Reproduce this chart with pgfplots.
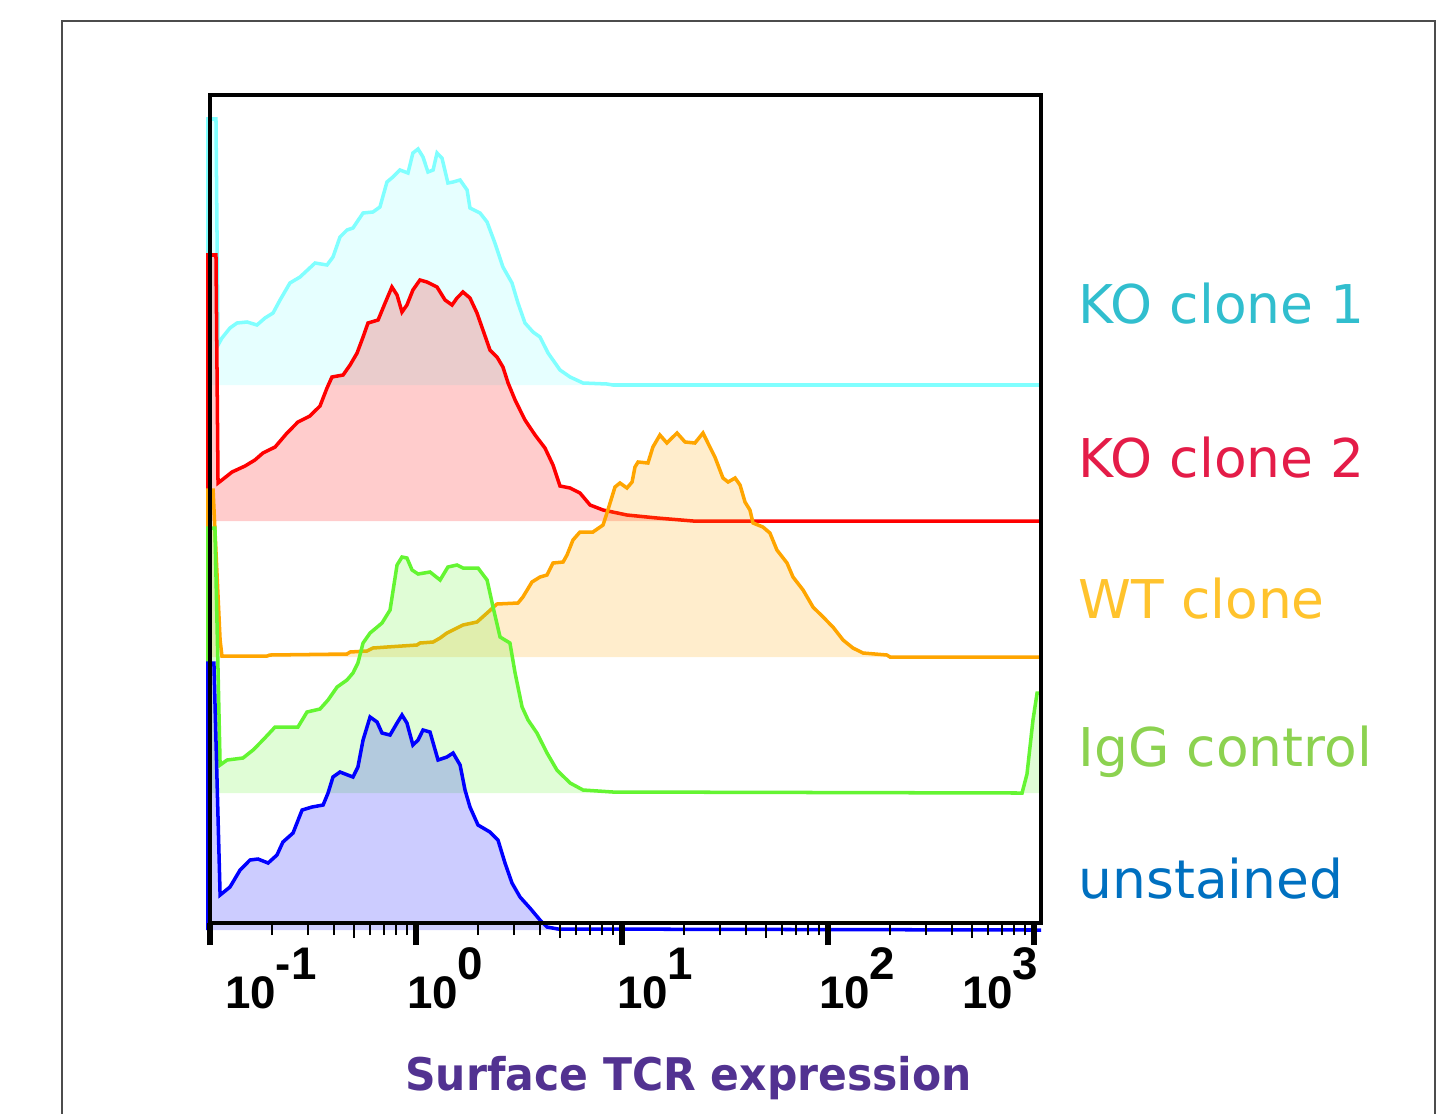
\documentclass[border=0pt]{standalone}
\usepackage{fontspec}
\setmainfont{DejaVu Sans}
\newfontfamily\tickfont{Liberation Sans}
\usepackage{graphicx}
\usepackage{pgfplots}
\usepackage{pgfplotstable}
\pgfplotsset{compat=1.18}

\definecolor{cyanline}{RGB}{128,255,255}
\definecolor{redline}{RGB}{255,0,0}
\definecolor{orangeline}{RGB}{255,165,0}
\definecolor{greenline}{RGB}{100,245,50}
\definecolor{blueline}{RGB}{0,0,255}
\definecolor{koAtext}{RGB}{49,190,206}
\definecolor{koBtext}{RGB}{228,28,72}
\definecolor{wttext}{RGB}{255,195,45}
\definecolor{iggtext}{RGB}{140,210,80}
\definecolor{unsttext}{RGB}{0,112,192}
\definecolor{titletext}{RGB}{82,50,145}

% x: log10 of intensity (decades), y: stacked histogram height (offset per sample)
\pgfplotstableread{
x y
-1.010 538
-1.010 804
-0.971 804
-0.961 578
-0.942 585
-0.903 595
-0.869 600
-0.820 601
-0.772 598
-0.733 605
-0.694 610
-0.660 623
-0.612 640
-0.563 646
-0.490 660
-0.432 658
-0.403 666
-0.369 686
-0.335 693
-0.306 695
-0.257 710
-0.209 711
-0.175 716
-0.141 741
-0.112 746
-0.078 753
-0.039 750
-0.015 770
0.010 774
0.034 766
0.058 751
0.083 753
0.102 770
0.126 765
0.155 740
0.180 741
0.214 743
0.248 733
0.262 715
0.311 710
0.345 701
0.383 680
0.422 656
0.466 640
0.495 620
0.529 600
0.568 591
0.602 586
0.641 570
0.699 553
0.748 546
0.811 540
0.927 539
0.956 538
3.034 538
}\koA

\pgfplotstableread{
x y
-1.010 402
-1.010 668
-0.971 668
-0.961 440
-0.942 443
-0.893 451
-0.830 457
-0.782 463
-0.743 470
-0.684 476
-0.626 490
-0.573 501
-0.515 507
-0.466 517
-0.432 535
-0.408 546
-0.354 548
-0.320 558
-0.286 570
-0.257 586
-0.233 600
-0.184 603
-0.150 620
-0.117 636
-0.092 628
-0.068 611
-0.044 618
-0.015 633
0.019 643
0.053 641
0.102 636
0.141 623
0.175 618
0.199 625
0.228 631
0.262 625
0.296 610
0.325 593
0.359 573
0.393 566
0.422 556
0.447 540
0.481 523
0.529 503
0.578 488
0.626 475
0.665 458
0.699 437
0.748 435
0.796 430
0.845 418
0.908 413
1.024 408
1.170 405
1.345 402
3.034 402
}\koB

\pgfplotstableread{
x y
-1.010 266
-1.010 433
-0.985 433
-0.951 283
-0.942 267
-0.723 267
-0.709 268
-0.335 269
-0.320 271
-0.238 272
-0.209 275
-0.141 276
0.005 278
0.019 280
0.083 281
0.117 285
0.150 290
0.228 298
0.296 301
0.345 310
0.393 319
0.495 320
0.519 326
0.563 341
0.602 346
0.636 348
0.665 360
0.714 361
0.733 368
0.762 383
0.796 391
0.859 391
0.908 398
0.927 410
0.951 426
0.966 436
0.990 440
1.024 435
1.049 441
1.063 456
1.078 461
1.126 460
1.150 476
1.184 488
1.218 480
1.267 490
1.306 481
1.354 480
1.393 490
1.417 480
1.451 466
1.490 445
1.515 441
1.549 445
1.573 438
1.597 421
1.621 413
1.636 400
1.684 396
1.718 390
1.752 373
1.801 360
1.830 346
1.879 333
1.927 316
1.976 306
2.024 296
2.073 283
2.121 275
2.170 270
2.286 268
2.301 266
3.034 266
}\wt

\pgfplotstableread{
x y
-1.010 130
-1.010 395
-0.976 395
-0.951 158
-0.917 163
-0.840 165
-0.791 173
-0.743 183
-0.684 196
-0.573 196
-0.529 211
-0.466 214
-0.427 223
-0.383 236
-0.335 243
-0.306 250
-0.282 260
-0.257 280
-0.223 290
-0.165 300
-0.126 313
-0.092 358
-0.068 366
-0.044 365
-0.019 353
0.010 349
0.068 351
0.117 343
0.155 356
0.199 358
0.228 355
0.301 355
0.345 343
0.374 316
0.408 286
0.456 280
0.481 250
0.515 216
0.544 203
0.587 190
0.636 170
0.684 153
0.748 140
0.811 133
0.956 131
2.942 130
2.966 149
2.995 203
3.015 230
3.034 230
3.034 130
}\igg

\pgfplotstableread{
x y
-1.010 -7
-1.010 260
-0.981 260
-0.951 28
-0.903 36
-0.854 53
-0.806 63
-0.767 64
-0.718 60
-0.675 68
-0.646 81
-0.597 90
-0.553 113
-0.505 116
-0.451 118
-0.427 130
-0.403 146
-0.369 151
-0.306 146
-0.282 156
-0.257 183
-0.223 206
-0.189 201
-0.165 190
-0.126 188
-0.092 200
-0.068 208
-0.044 200
-0.015 178
0.010 183
0.034 193
0.068 191
0.107 163
0.150 166
0.180 170
0.214 158
0.238 133
0.262 116
0.301 98
0.359 91
0.398 83
0.432 60
0.466 40
0.505 26
0.553 15
0.602 3
0.636 -4
0.689 -6
3.034 -7
}\unst

\begin{document}
\begin{tikzpicture}
\useasboundingbox (0,0) rectangle (14.44,11.13);
\draw[line width=0.2mm, black!70] (0.62,-0.2) -- (0.62,10.92) -- (14.35,10.92) -- (14.35,-0.2);

\begin{axis}[
    at={(2.10cm,1.90cm)}, anchor=south west,
    scale only axis,
    width=8.31cm, height=8.28cm,
    xmin=-1, xmax=3.034,
    ymin=0, ymax=828,
    clip=false,
    axis on top,
    axis line style={line width=1pt},
    ytick=\empty,
    xtick pos=bottom,
    tick align=outside,
    xtick={-1,0,1,2,3},
    xticklabels={
        \makebox[0pt][l]{\hspace*{1.5mm}10\raisebox{2.9mm}{-1}},
        \makebox[0pt][l]{\hspace*{-0.9mm}10\raisebox{2.9mm}{0}},
        \makebox[0pt][l]{\hspace*{-0.5mm}10\raisebox{2.9mm}{1}},
        \makebox[0pt][l]{\hspace*{-0.9mm}10\raisebox{2.9mm}{2}},
        \makebox[0pt][l]{\hspace*{-7.2mm}10\raisebox{2.9mm}{3}}},
    xticklabel style={font=\tickfont\bfseries\fontsize{13}{15}\selectfont, anchor=north, inner sep=0pt, yshift=-0.2mm},
    minor xtick={-0.69897,-0.52288,-0.39794,-0.22185,-0.15490,-0.09691,-0.04576,
        0.30103,0.47712,0.60206,0.77815,0.84510,0.90309,0.95424,
        1.30103,1.47712,1.60206,1.77815,1.84510,1.90309,1.95424,
        2.30103,2.47712,2.60206,2.77815,2.84510,2.90309,2.95424},
    extra x ticks={-0.30103,0.69897,1.69897,2.69897},
    extra x tick labels={},
    extra x tick style={major tick length=1.5mm, major tick style={line width=0.2mm}},
    major tick length=2.2mm,
    minor tick length=1.2mm,
    major tick style={line width=0.6mm, black},
    minor tick style={line width=0.2mm, black},
    xlabel={\scalebox{0.945}[1]{Surface TCR expression}},
    every axis x label/.style={at={(axis description cs:0.576,-0.2017)}, anchor=base,
        font=\bfseries\fontsize{12.8}{15}\selectfont, text=titletext},
]
% KO clone 1
\addplot[draw=none, fill=cyanline, fill opacity=0.2] table {\koA} -- cycle;
\addplot[cyanline, line width=1pt] table {\koA};
% KO clone 2
\addplot[draw=none, fill=redline, fill opacity=0.2] table {\koB} -- cycle;
\addplot[redline, line width=1pt] table {\koB};
% WT clone
\addplot[draw=none, fill=orangeline, fill opacity=0.2] table {\wt} -- cycle;
\addplot[orangeline, line width=1pt] table {\wt};
% IgG control
\addplot[draw=none, fill=greenline, fill opacity=0.2] table {\igg} -- cycle;
\addplot[greenline, line width=1pt] table {\igg};
% unstained
\addplot[draw=none, fill=blueline, fill opacity=0.2] table {\unst} -- cycle;
\addplot[blueline, line width=1pt] table {\unst};
\end{axis}

\begin{scope}[every node/.style={anchor=base west, inner sep=0pt, font=\fontsize{15.2}{18}\selectfont}]
\node[text=koAtext] at (10.78,7.90) {KO clone 1};
\node[text=koBtext] at (10.78,6.36) {KO clone 2};
\node[text=wttext] at (10.78,4.95) {WT clone};
\node[text=iggtext] at (10.78,3.47) {IgG control};
\node[text=unsttext] at (10.78,2.15) {unstained};
\end{scope}
\end{tikzpicture}
\end{document}
